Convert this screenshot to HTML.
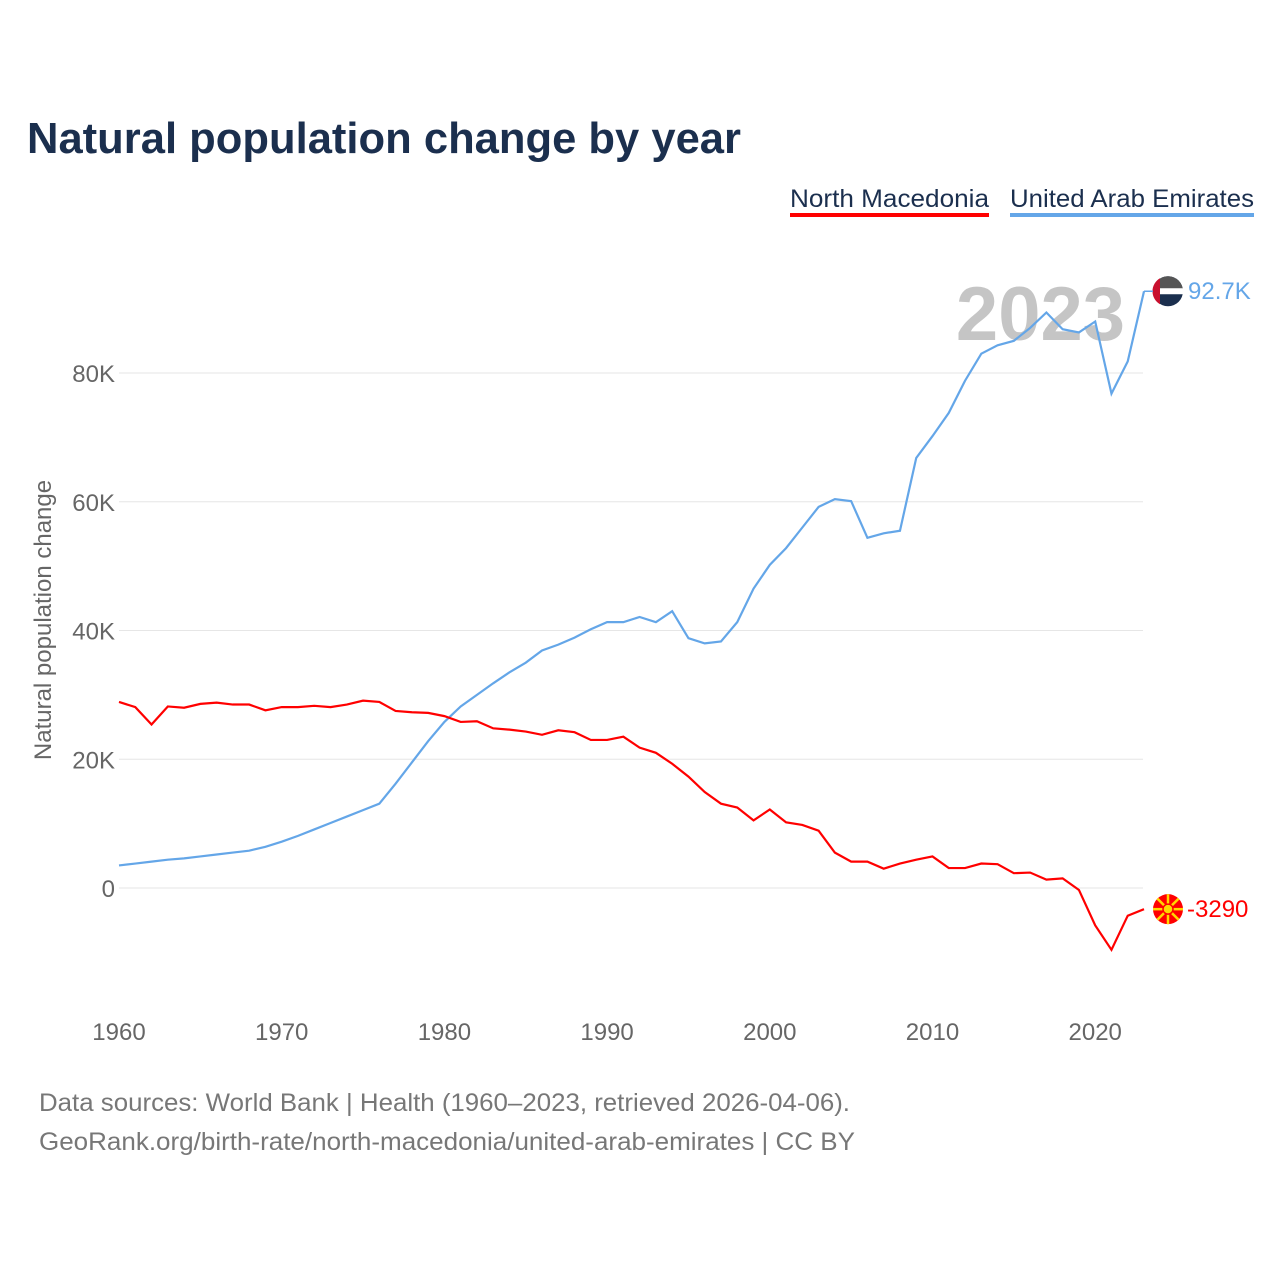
<!DOCTYPE html>
<html><head><meta charset="utf-8"><style>
body{margin:0;background:#fff;width:1280px;height:1280px;overflow:hidden;font-family:"Liberation Sans",sans-serif}
svg text{font-family:"Liberation Sans",sans-serif}
</style></head><body>
<svg id="c" width="1280" height="1280">
<text x="27" y="153" font-size="44" font-weight="bold" fill="#1b2f4e" textLength="714" lengthAdjust="spacingAndGlyphs">Natural population change by year</text>
<g><text x="790" y="207" font-size="25" fill="#1b2f4e" textLength="199" lengthAdjust="spacingAndGlyphs">North Macedonia</text><rect x="790" y="213" width="199" height="4" fill="#f00"/></g>
<g><text x="1010" y="207" font-size="25" fill="#1b2f4e" textLength="244" lengthAdjust="spacingAndGlyphs">United Arab Emirates</text><rect x="1010" y="213" width="244" height="4" fill="#64a6e8"/></g>
<text x="1125" y="340" font-size="76" font-weight="bold" fill="#bbb" opacity="0.85" text-anchor="end">2023</text>
<text transform="translate(51,620) rotate(-90)" font-size="24" fill="#666" text-anchor="middle">Natural population change</text>
<g id="grid"></g><g id="lines"></g>
<g><text x="39" y="1111" font-size="25" fill="#777" textLength="811" lengthAdjust="spacingAndGlyphs">Data sources: World Bank | Health (1960–2023, retrieved 2026-04-06).</text>
<text x="39" y="1150" font-size="25" fill="#777" textLength="816" lengthAdjust="spacingAndGlyphs">GeoRank.org/birth-rate/north-macedonia/united-arab-emirates | CC BY</text></g>
</svg>
<script>
const years=[];for(let y=1960;y<=2023;y++)years.push(y);
const uae=[3.5,3.8,4.1,4.4,4.6,4.9,5.2,5.5,5.8,6.4,7.2,8.1,9.1,10.1,11.1,12.1,13.1,16.2,19.5,22.8,25.8,28.2,30,31.8,33.5,35,36.9,37.8,38.9,40.2,41.3,41.3,42.1,41.3,43,38.8,38,38.3,41.3,46.5,50.2,52.8,56,59.2,60.4,60.1,54.4,55.1,55.5,66.8,70.2,73.8,78.8,83,84.3,85,87,89.4,86.8,86.3,88,76.8,81.8,92.7];
const mkd=[28.9,28.1,25.4,28.2,28,28.6,28.8,28.5,28.5,27.6,28.1,28.1,28.3,28.1,28.5,29.1,28.9,27.5,27.3,27.2,26.7,25.8,25.9,24.8,24.6,24.3,23.8,24.5,24.2,23,23,23.5,21.8,21,19.3,17.3,14.9,13.1,12.5,10.5,12.2,10.2,9.8,8.9,5.5,4.1,4.1,3,3.8,4.4,4.9,3.1,3.1,3.8,3.7,2.3,2.4,1.3,1.5,-0.3,-5.8,-9.6,-4.3,-3.29];
const yTicks=[0,20,40,60,80];const yLabels=["0","20K","40K","60K","80K"];
const xTicks=[1960,1970,1980,1990,2000,2010,2020];
const X=y=>119+(y-1960)*16.27, Y=v=>888-v*6.4375;
const NS="http://www.w3.org/2000/svg";
function mk(t,a,p){const e=document.createElementNS(NS,t);for(const k in a)e.setAttribute(k,a[k]);p.appendChild(e);return e;}
const g=document.getElementById('grid'),L=document.getElementById('lines');
yTicks.forEach((v,i)=>{const l=mk('line',{x1:119,x2:1143,y1:Y(v),y2:Y(v),stroke:'#e6e6e6'},g);


const t=mk('text',{x:115,y:Y(v)+9,'font-size':24,fill:'#666','text-anchor':'end'},g);t.textContent=yLabels[i];

});
xTicks.forEach(v=>{const t=mk('text',{x:X(v),y:1040,'font-size':24,fill:'#666','text-anchor':'middle'},g);t.textContent=v;

});
function line(d,c,n){const p=mk('polyline',{points:d.map((v,i)=>X(years[i])+','+Y(v)).join(' '),fill:'none',stroke:c,'stroke-width':2.2},L);

}
line(uae,'#64a6e8','uae-line');line(mkd,'#f00','north-macedonia-line');
const lu=uae[uae.length-1], lm=mkd[mkd.length-1];
const fu=mk('g',{},L);
mk('circle',{cx:1168,cy:Y(lu),r:15,fill:'#1b2f4e'},fu);
mk('path',{d:`M1153 ${Y(lu)} A15 15 0 0 1 1183 ${Y(lu)} Z`,fill:'#555'},fu);
mk('rect',{x:1160,y:Y(lu)-3,width:23,height:6,fill:'#fff'},fu);
mk('path',{d:`M1160 ${Y(lu)-13} L1160 ${Y(lu)+13} A15 15 0 0 1 1160 ${Y(lu)-13} Z`,fill:'#c8102e'},fu);
mk('line',{x1:X(2023),x2:1153,y1:Y(lu),y2:Y(lu),stroke:'#64a6e8','stroke-width':1.5},fu);
const tu=mk('text',{x:1188,y:Y(lu)+8,'font-size':24,fill:'#64a6e8'},L);tu.textContent='92.7K';


const fm=mk('g',{},L);
mk('circle',{cx:1168,cy:Y(lm),r:15,fill:'#f00'},fm);
for(let a=0;a<8;a++){const r=a*Math.PI/4;mk('line',{x1:1168,y1:Y(lm),x2:1168+15*Math.cos(r),y2:Y(lm)+15*Math.sin(r),stroke:'#ffd700','stroke-width':2.5},fm);}
mk('circle',{cx:1168,cy:Y(lm),r:5,fill:'#ffd700',stroke:'#f00','stroke-width':1.5},fm);
const tm=mk('text',{x:1187,y:Y(lm)+8,'font-size':24,fill:'#f00'},L);tm.textContent='-3290';


</script>
</body></html>
